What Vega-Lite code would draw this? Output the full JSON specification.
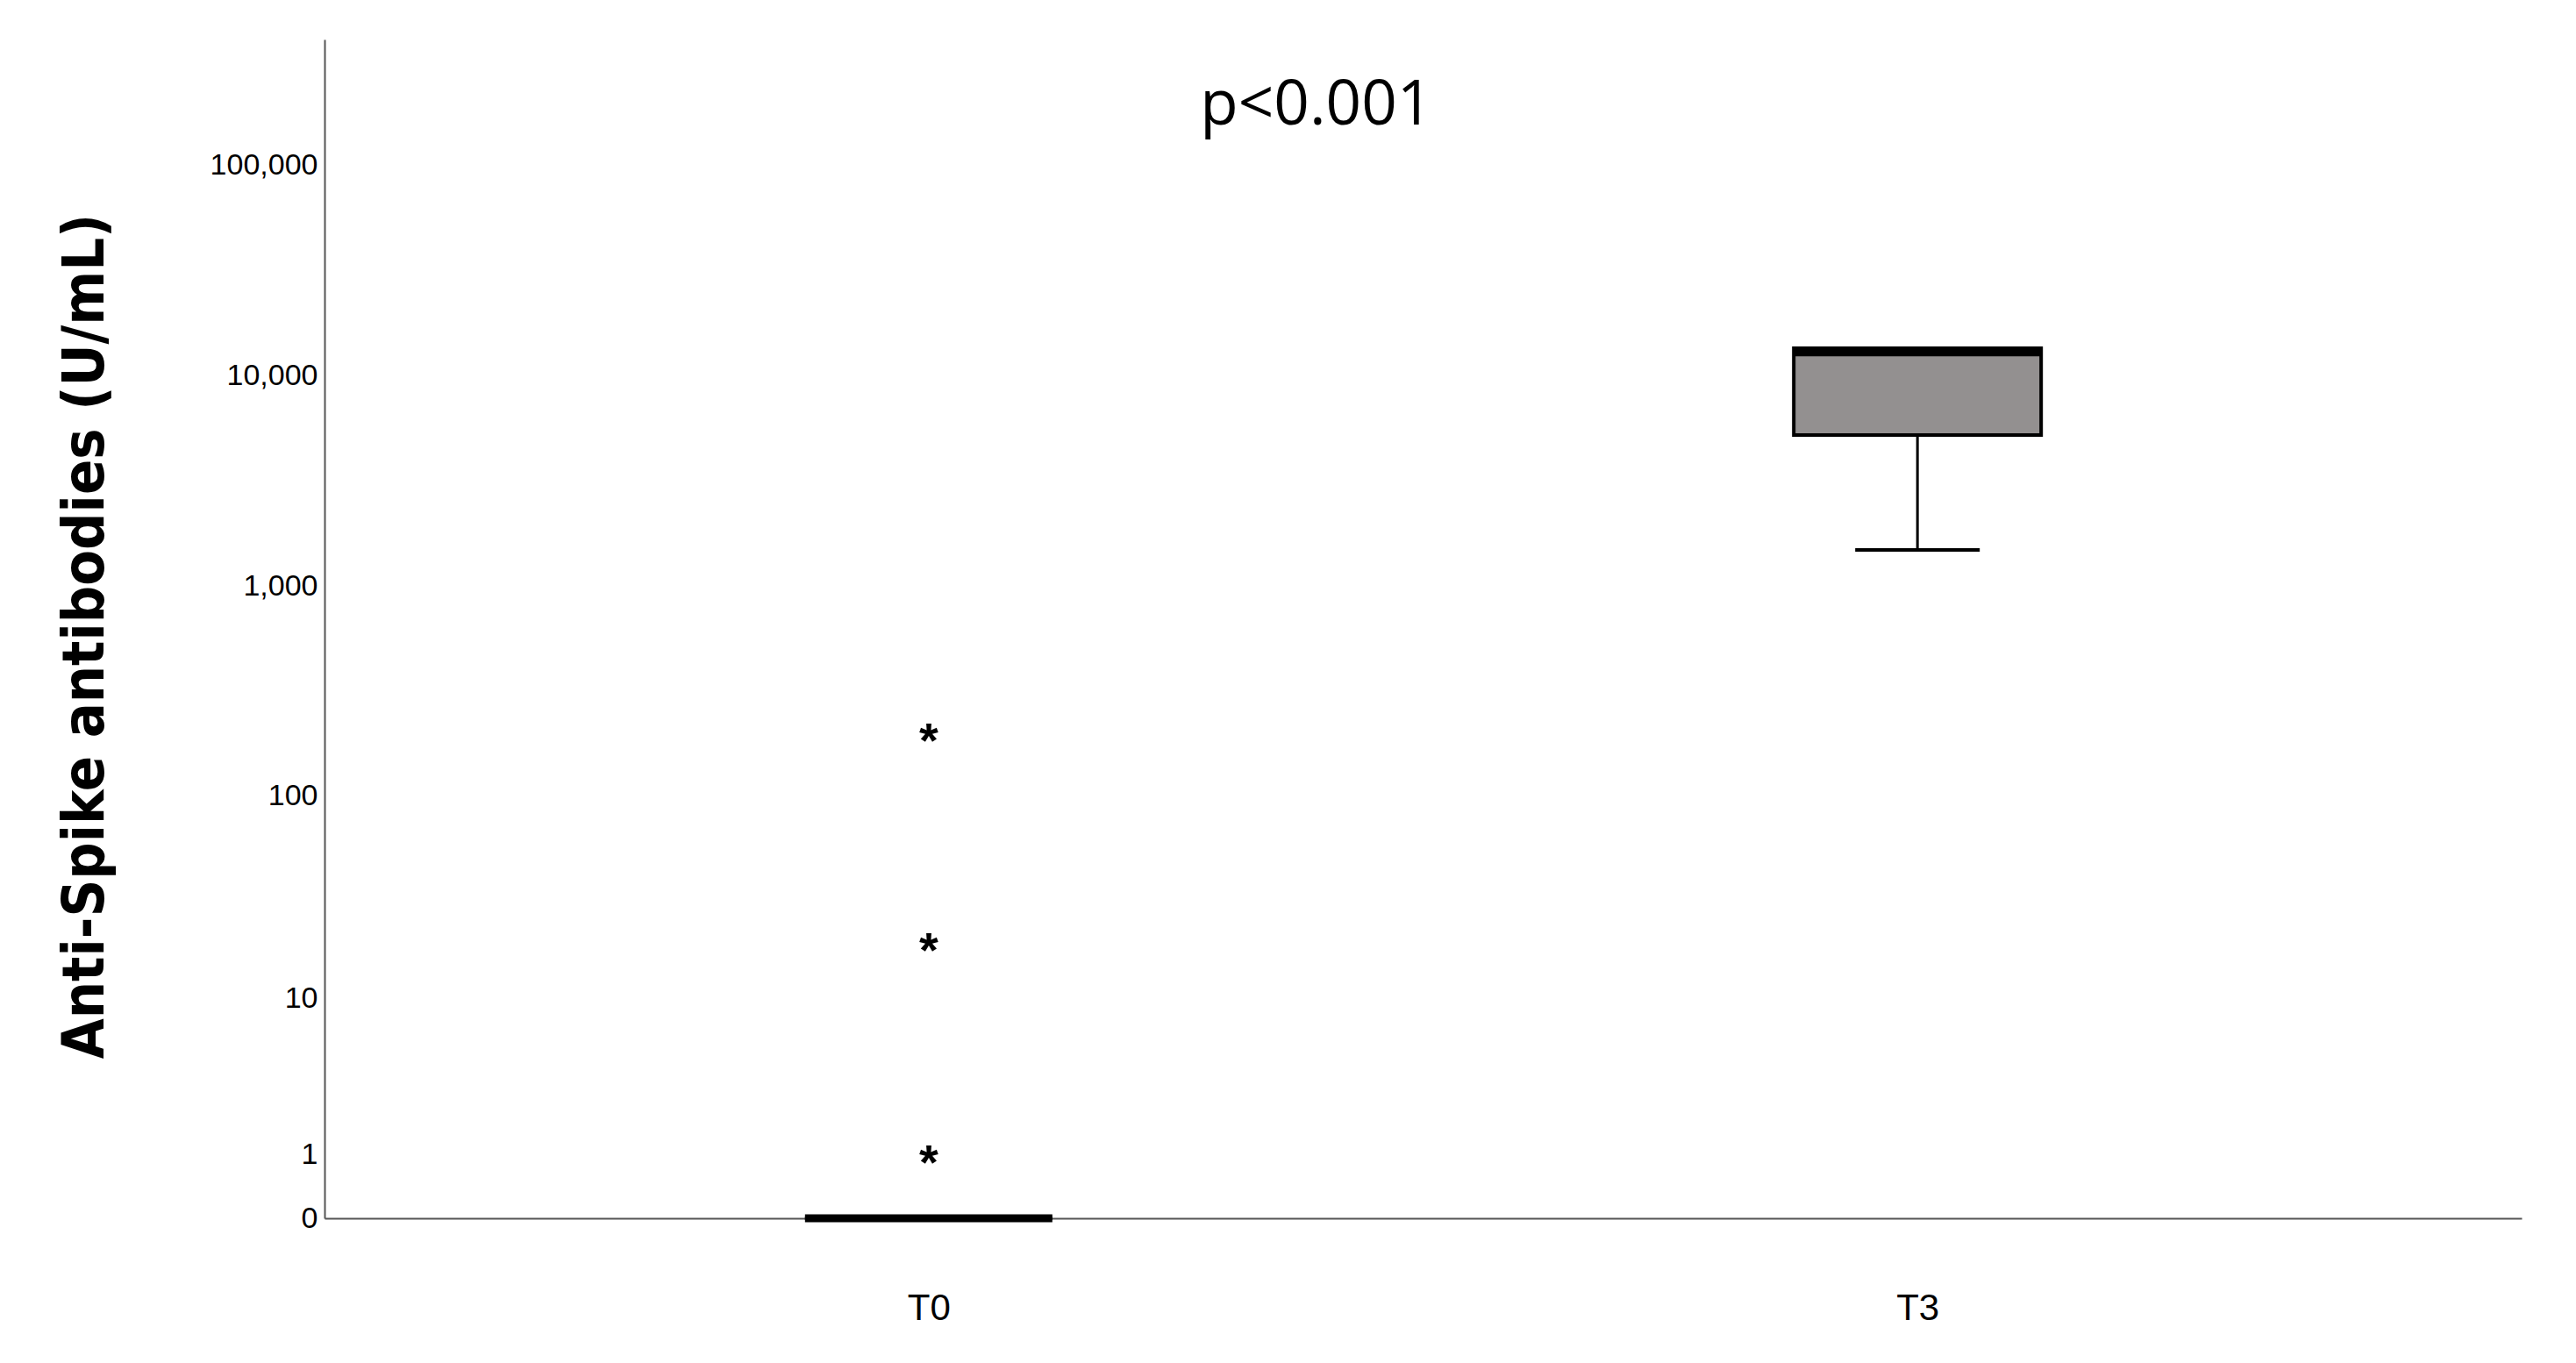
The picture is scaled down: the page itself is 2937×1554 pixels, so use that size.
{
  "$schema": "https://vega.github.io/schema/vega-lite/v6.json",
  "autosize": "none",
  "padding": {"left": 370, "top": 45, "right": 62, "bottom": 165},
  "width": 2505,
  "height": 1344,
  "background": "white",
  "config": {"view": {"stroke": null}},
  "datasets": {
    "boxes": [
      {"time": "T0", "lower": 0, "q1": 0, "median": 0, "q3": 0},
      {"time": "T3", "lower": 1490, "q1": 5230, "median": 12900, "q3": 13500}
    ],
    "outliers": [
      {"time": "T0", "value": 196},
      {"time": "T0", "value": 19},
      {"time": "T0", "value": 0.96}
    ],
    "annot": [{"time": "T0", "value": 190000, "label": "p<0.001"}]
  },
  "encoding": {
    "x": {
      "field": "time", "type": "nominal",
      "scale": {"type": "point", "domain": ["T0", "T3"], "padding": 0.611},
      "axis": {
        "title": null, "labelAngle": 0, "ticks": false, "domainColor": "#555555", "domainWidth": 2,
        "labelFont": "Liberation Sans", "labelFontSize": 42, "labelColor": "black", "labelPadding": 82
      }
    }
  },
  "layer": [
    {
      "data": {"name": "boxes"},
      "mark": {"type": "rule", "stroke": "black", "strokeWidth": 3},
      "encoding": {
        "y": {
          "field": "lower", "type": "quantitative",
          "scale": {"type": "symlog", "constant": 1, "domain": [0, 395000], "nice": false},
          "axis": {
            "title": "Anti-Spike antibodies (U/mL)",
            "values": [0, 1, 10, 100, 1000, 10000, 100000], "format": ",d",
            "ticks": false, "grid": false, "domainColor": "#555555", "domainWidth": 2,
            "labelFont": "Liberation Sans", "labelFontSize": 34, "labelColor": "black", "labelPadding": 8,
            "titleFont": "Liberation Sans Narrow, DejaVu Sans Condensed, sans-serif", "titleFontSize": 66,
            "titleFontWeight": "bold", "titleColor": "black",
            "titleX": -273, "titleY": 680, "titleAngle": -90, "titleAlign": "center", "titleBaseline": "middle"
          }
        },
        "y2": {"field": "q1"}
      }
    },
    {
      "data": {"name": "boxes"},
      "mark": {"type": "tick", "color": "black", "opacity": 1, "size": 142, "thickness": 4},
      "encoding": {"y": {"field": "lower", "type": "quantitative"}}
    },
    {
      "data": {"name": "boxes"},
      "mark": {"type": "bar", "fill": "#939090", "stroke": "black", "strokeWidth": 4, "size": 282},
      "encoding": {
        "y": {"field": "q1", "type": "quantitative"},
        "y2": {"field": "q3"}
      }
    },
    {
      "data": {"name": "boxes"},
      "mark": {"type": "tick", "color": "black", "opacity": 1, "size": 282, "thickness": 9},
      "encoding": {"y": {"field": "median", "type": "quantitative"}}
    },
    {
      "data": {"name": "outliers"},
      "mark": {"type": "text", "text": "*", "font": "Liberation Sans", "fontWeight": "bold", "fontSize": 56, "baseline": "middle", "dy": 8, "color": "black"},
      "encoding": {"y": {"field": "value", "type": "quantitative"}}
    },
    {
      "data": {"name": "annot"},
      "mark": {"type": "text", "font": "Open Sans", "fontSize": 71, "baseline": "middle", "dx": 442, "color": "black"},
      "encoding": {
        "y": {"field": "value", "type": "quantitative"},
        "text": {"field": "label"}
      }
    }
  ]
}
